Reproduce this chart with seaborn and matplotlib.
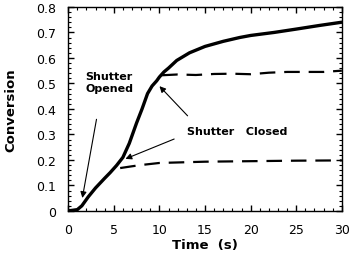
import numpy as np
import pandas as pd
import seaborn as sns
import matplotlib.pyplot as plt
from matplotlib.ticker import MultipleLocator, FixedLocator

# continuous exposure curve
time_full = [0, 1.0, 1.5, 2.2, 3, 4, 4.6, 5.3, 6, 6.7, 7.5, 8.1, 8.7, 9.2, 9.7, 10,
             10.5, 11, 11.9, 13.3, 15, 17, 18.8, 20, 22.6, 25, 27.5, 30]
conv_full = [0, 0.005, 0.02, 0.055, 0.09, 0.128, 0.15, 0.178, 0.21, 0.265, 0.345,
             0.40, 0.46, 0.49, 0.51, 0.525, 0.545, 0.56, 0.59, 0.62, 0.645, 0.665,
             0.68, 0.688, 0.70, 0.713, 0.727, 0.74]

# shutter closed at ~10 s
time_close10 = [10.3, 12, 14, 16, 18, 20, 22, 24, 26, 28, 30]
conv_close10 = [0.532, 0.535, 0.533, 0.537, 0.538, 0.536, 0.542, 0.545, 0.545, 0.545, 0.55]

# shutter closed at ~6 s
time_close6 = [5.7, 7, 8, 10, 12, 15, 20, 25, 30]
conv_close6 = [0.168, 0.175, 0.18, 0.188, 0.19, 0.193, 0.195, 0.197, 0.198]

ytick_labels = ['0', '0.1', '0.2', '0.3', '0.4', '0.5', '0.6', '0.7', '0.8']

sns.set_style("ticks")
plt.rcParams['font.family'] = ['DejaVu Sans']
plt.rcParams['text.color'] = 'black'
plt.rcParams['axes.labelcolor'] = 'black'

fig = plt.figure(figsize=(3.55, 2.55), dpi=100)
ax = fig.add_axes([0.192, 0.169, 0.771, 0.8])

df_full = pd.DataFrame({'t': time_full, 'c': conv_full})
df_10 = pd.DataFrame({'t': time_close10, 'c': conv_close10})
df_6 = pd.DataFrame({'t': time_close6, 'c': conv_close6})

sns.lineplot(data=df_full, x='t', y='c', ax=ax, color='black', linewidth=2.4)
sns.lineplot(data=df_10, x='t', y='c', ax=ax, color='black', linewidth=1.6,
             linestyle=(0, (7, 4)))
sns.lineplot(data=df_6, x='t', y='c', ax=ax, color='black', linewidth=1.6,
             linestyle=(0, (7, 4)))

ax.set_xlim(0, 30)
ax.set_ylim(0, 0.8)
ax.xaxis.set_major_locator(MultipleLocator(5))
ax.xaxis.set_minor_locator(MultipleLocator(1))
ax.yaxis.set_major_locator(FixedLocator([0, 0.1, 0.2, 0.3, 0.4, 0.5, 0.6, 0.7, 0.8]))
ax.yaxis.set_minor_locator(MultipleLocator(0.02))
ax.set_yticklabels(ytick_labels)
ax.tick_params(axis='both', which='both', direction='in', bottom=True, top=True,
               left=True, right=True, color='black', labelcolor='black', pad=9)
ax.tick_params(axis='both', which='major', length=4.5, width=1.0, labelsize=9)
ax.tick_params(axis='both', which='minor', length=2.5, width=0.8)
for s in ax.spines.values():
    s.set_linewidth(1.0)
    s.set_color('black')

ax.set_xlabel('Time  (s)', fontsize=9.5, fontweight='bold', labelpad=1)
ax.set_ylabel('Conversion', fontsize=9.5, fontweight='bold', labelpad=13)

arrow = dict(arrowstyle='-|>', lw=0.8, color='black', mutation_scale=9)
ax.text(1.85, 0.506, 'Shutter\nOpened', fontsize=8, fontweight='bold',
        ha='left', va='center', linespacing=1.3)
ax.annotate('', xy=(1.5, 0.04), xytext=(3.16, 0.37), arrowprops=arrow)
ax.text(13.0, 0.314, 'Shutter   Closed', fontsize=8, fontweight='bold',
        ha='left', va='center')
ax.annotate('', xy=(9.8, 0.497), xytext=(13.3, 0.365), arrowprops=arrow)
ax.annotate('', xy=(6.0, 0.2), xytext=(11.9, 0.286), arrowprops=arrow)

fig.savefig('out.png', dpi=100)
